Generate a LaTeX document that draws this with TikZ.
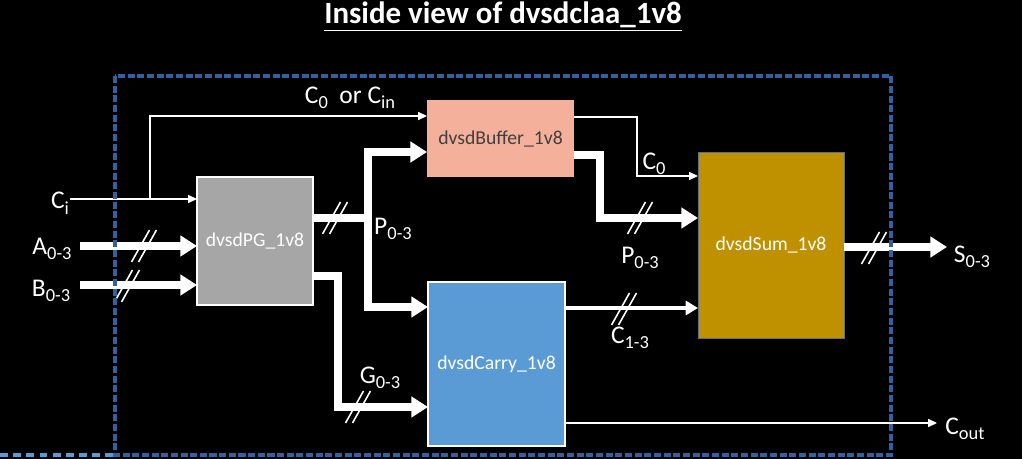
\documentclass[tikz,border=0pt]{standalone}
\usepackage{fontspec}
\setmainfont{Carlito}
\usepackage{tikz}
\usetikzlibrary{arrows.meta}
\definecolor{pggray}{HTML}{A6A6A6}
\definecolor{bufsalmon}{HTML}{F4B09A}
\definecolor{sumgold}{HTML}{BF9000}
\definecolor{carryblue}{HTML}{5B9BD5}
\definecolor{frameblue}{HTML}{35609F}
\newcommand{\sigsub}[1]{\raisebox{-0.45ex}{\fontsize{10.5}{12}\selectfont #1}}

\begin{document}
\begin{tikzpicture}[
  x=0.02cm, y=-0.02cm,
  font=\fontsize{14.5}{16}\selectfont, text=white,
  blk/.style={draw=white, line width=1pt, inner sep=0pt, outer sep=0pt,
              align=center, font=\fontsize{11.2}{13}\selectfont, fill=#1},
  sig/.style={draw=white, line width=0.9pt, -{Triangle[length=5pt,width=4.5pt]}},
  mid/.style={draw=white, line width=2pt, -{Triangle[length=7pt,width=8pt]}},
  bus/.style={draw=white, line width=4.3pt, -{Triangle[length=9.5pt,width=11.5pt]}},
  busmark/.pic={\draw[white, line width=0.9pt] (-12.5,16) -- (5.5,-16) (-5.5,16) -- (12.5,-16);}
]
\fill[black] (0,0) rectangle (1022,459);
\useasboundingbox (0,0) rectangle (1022,459);

\node (title) at (503,17) {\bfseries\fontsize{17.6}{20}\selectfont\underline{Inside view of dvsdclaa\_1v8}};

% blocks
\node[blk=pggray, minimum width=2.32cm, minimum height=2.56cm] (pg) at (255,241) {dvsdPG\_1v8};
\node[blk=bufsalmon, draw=none, text=black!75, minimum width=2.94cm, minimum height=1.54cm] (buf) at (500.5,138.5) {dvsdBuffer\_1v8};
\node[blk=carryblue, minimum width=2.74cm, minimum height=3.28cm] (carry) at (496.5,364) {dvsdCarry\_1v8};
\node[blk=sumgold, draw=frameblue!50!gray, line width=0.5pt, minimum width=2.92cm, minimum height=3.72cm] (sum) at (771,245) {dvsdSum\_1v8};

% pins and bends
\coordinate (cin) at (70,199);
\coordinate (ain) at (80,246);
\coordinate (bin) at (80,285);
\coordinate (cbr) at (150,199);
\coordinate (pj) at (368,218);
\coordinate (gj) at (338,407);
\coordinate (c0j) at (637,176);
\coordinate (pbj) at (600,218);
\coordinate (cout) at (937,423);
\coordinate (sout) at (947,247);

% connectors
\draw[sig] (cin) -- (pg.west |- cin);
\draw[sig] (cbr) |- (buf.west |- 0,116);
\draw[bus] (ain) -- (pg.west |- ain);
\draw[bus] (bin) -- (pg.west |- bin);
\draw[bus] (pg.east |- pj) -- (pj) |- (buf.west |- 0,152);
\draw[bus] (pj) |- (carry.west |- 0,307);
\draw[bus] (pg.east |- 0,276) -| (gj) -- (carry.west |- gj);
\draw[sig] (buf.east |- 0,117) -| (c0j) -- (sum.west |- c0j);
\draw[bus] (buf.east |- 0,155) -| (pbj) -- (sum.west |- pbj);
\draw[mid] (carry.east |- 0,308) -- (sum.west |- 0,308);
\draw[sig] (carry.east |- cout) -- (cout);
\draw[bus] (sum.east |- sout) -- (sout);

\pic at (144,246) {busmark};
\pic at (127,286) {busmark};
\pic at (335,218) {busmark};
\pic at (358,407) {busmark};
\pic at (640,218) {busmark};
\pic at (624,309) {busmark};
\pic at (874,248) {busmark};

% labels
\node (lci) at (60,203) {C\sigsub{i}};
\node (la) at (52,249) {A\sigsub{0-3}};
\node (lb) at (51,291) {B\sigsub{0-3}};
\node (lc0in) at (350,98) {C\sigsub{0}\ \ or C\sigsub{in}};
\node (lp1) at (393,229) {P\sigsub{0-3}};
\node (lg) at (380,378) {G\sigsub{0-3}};
\node (lc0) at (654,164) {C\sigsub{0}};
\node (lp2) at (640,258) {P\sigsub{0-3}};
\node (lc13) at (630,338) {C\sigsub{1-3}};
\node (ls) at (972,257) {S\sigsub{0-3}};
\node (lcout) at (965,429) {C\sigsub{out}};

% module outline
\draw[frameblue, line width=2.2pt, dash pattern=on 4pt off 1.5pt] (115,76) rectangle (891,455);
\draw[carryblue, line width=2pt, dash pattern=on 4.5pt off 3pt] (0,455) -- (113,455);
\end{tikzpicture}
\end{document}
